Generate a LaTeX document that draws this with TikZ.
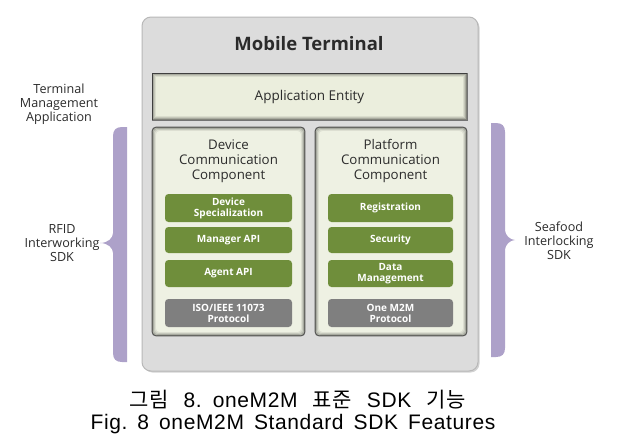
\documentclass[tikz,border=0pt]{standalone}
\usepackage{fontspec}
\setmainfont{Open Sans}
\newfontfamily\krfont[LetterSpace=3]{Noto Sans CJK KR}
\newfontfamily\capfont[LetterSpace=3]{Liberation Sans}
\usetikzlibrary{shadows}
\definecolor{outerfill}{HTML}{DCDCDC}
\definecolor{outeredge}{HTML}{B8B8B8}
\definecolor{aefill}{HTML}{EBEEDD}
\definecolor{compfill}{HTML}{EEF1E3}
\definecolor{greenbox}{HTML}{6F8E3B}
\definecolor{graybox}{HTML}{7F7F7F}
\definecolor{bracecol}{HTML}{ADA1C9}
\definecolor{txt}{HTML}{2B2B2B}
\tikzset{
  outerbox/.style={draw=outeredge, line width=1pt, fill=outerfill, rounded corners=9pt,
     minimum width=336pt, minimum height=354pt, inner sep=0pt,
     drop shadow={shadow xshift=1.5pt, shadow yshift=-1.5pt, opacity=0.35}},
  aebox/.style={fill=aefill, draw=black!55, line width=0.8pt, minimum width=315pt, minimum height=47pt, inner sep=0pt,
     font=\fontsize{13.5}{15}\selectfont, text=txt},
  compbox/.style={fill=compfill, draw=black!55, line width=0.8pt, rounded corners=4pt, minimum height=209pt, inner sep=0pt},
  comptitle/.style={align=center, font=\fontsize{13.3}{15}\selectfont, text=txt, inner sep=0pt},
  featbox/.style={fill=greenbox, rounded corners=3.5pt, inner sep=0pt, align=center, text=white,
     font=\bfseries\fontsize{10}{11}\selectfont},
  protobox/.style={featbox, fill=graybox},
  sidelabel/.style={align=center, font=\fontsize{12.6}{14}\selectfont, text=txt, inner sep=0pt},
  bracefill/.style={fill=bracecol},
  titletext/.style={font=\bfseries\fontsize{18.5}{20}\selectfont, text=txt, inner sep=0pt},
  captext/.style={inner sep=0pt, text=black, anchor=base}
}
\newcommand{\innershadow}[2]{%
  \foreach \i/\o in {0.8/0.45,1.8/0.28,2.8/0.16,3.8/0.07}{%
    \draw[black, opacity=\o, line width=1pt, rounded corners=#2]
      ([shift={(\i pt,-\i pt)}]#1.north west) rectangle ([shift={(-\i pt,\i pt)}]#1.south east);}}
\begin{document}
\begin{tikzpicture}[x=1pt,y=-1pt]
\useasboundingbox (0,0) rectangle (617,447);
\fill[white] (0,0) rectangle (617,447);

% outer mobile terminal
\node[outerbox] (mt) at (310,194) {};
\node[titletext] (mttitle) at (309,44) {Mobile Terminal};

% application entity
\node[aebox] (ae) at (309.5,96.5) {Application Entity};
\innershadow{ae}{0pt}

% components
\node[compbox, minimum width=153pt] (dcc) at (228.5,231.5) {};
\innershadow{dcc}{4pt}
\node[compbox, minimum width=152pt] (pcc) at (391,231.5) {};
\innershadow{pcc}{4pt}
\node[comptitle] (dcct) at (228.5,161) {Device\\Communication\\Component};
\node[comptitle] (pcct) at (390.5,161) {Platform\\Communication\\Component};

% left features
\node[featbox, minimum width=127pt, minimum height=28pt] (ds) at (228.5,208) {Device\\Specialization};
\node[featbox, minimum width=127pt, minimum height=26pt] (mapi) at (228.5,240) {Manager API};
\node[featbox, minimum width=127pt, minimum height=27pt] (aapi) at (228.5,273.5) {Agent API};
\node[protobox, minimum width=127pt, minimum height=28pt] (iso) at (228.5,313) {ISO/IEEE 11073\\Protocol};

% right features
\node[featbox, minimum width=125pt, minimum height=28pt] (reg) at (390.5,208) {Registration};
\node[featbox, minimum width=125pt, minimum height=26pt] (sec) at (390.5,240) {Security};
\node[featbox, minimum width=125pt, minimum height=27pt] (dm) at (390.5,273.5) {Data\\Management};
\node[protobox, minimum width=125pt, minimum height=28pt] (m2m) at (390.5,313) {One M2M\\Protocol};

% braces
\fill[bracefill] (127,127) -- (127,362) -- (122,362) .. controls (116,362) and (113,359) .. (113,353)
  -- (113,253) .. controls (113,248) and (108,243) .. (100,243)
  .. controls (108,243) and (113,238) .. (113,233)
  -- (113,136) .. controls (113,130) and (116,127) .. (122,127) -- cycle;
\fill[bracefill] (491,123) -- (491,357) -- (496,357) .. controls (502,357) and (505,354) .. (505,348)
  -- (505,250) .. controls (505,245) and (510,240) .. (515,240)
  .. controls (510,240) and (505,235) .. (505,230)
  -- (505,132) .. controls (505,126) and (502,123) .. (496,123) -- cycle;

% side labels
\node[sidelabel] (tma) at (59,104) {Terminal\\Management\\Application};
\node[sidelabel] (rfid) at (62,243) {RFID\\Interworking\\SDK};
\node[sidelabel] (sea) at (559,241) {Seafood\\Interlocking\\SDK};

% caption
\node[captext, font=\fontsize{21}{23}\selectfont] (cap1) at (297.5,407)
  {\krfont 그림\hspace{15pt}\capfont 8.\hspace{11pt}oneM2M\hspace{15pt}\krfont 표준\hspace{15pt}\capfont SDK\hspace{15pt}\krfont 기능};
\node[captext, font=\capfont\fontsize{21}{23}\selectfont] (cap2) at (293,429)
  {Fig.\hspace{10pt}8\hspace{10pt}oneM2M\hspace{10pt}Standard\hspace{10pt}SDK\hspace{10pt}Features};
\end{tikzpicture}
\end{document}
